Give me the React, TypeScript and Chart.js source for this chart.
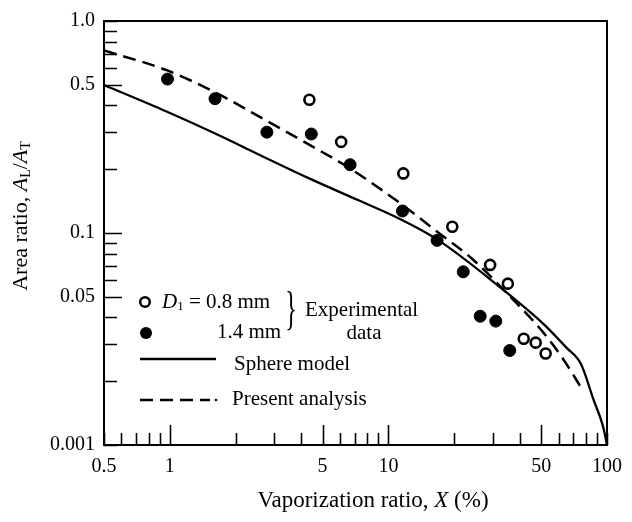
import React, { useEffect, useRef } from "react";
import { Chart, registerables } from "chart.js";
Chart.register(...registerables);

// ---- Data ----
const openX = [4.35, 6.08, 11.7, 19.6, 29.2, 35.2, 41.6, 47.2, 52.4];
const openY = [0.425, 0.269, 0.191, 0.107, 0.0707, 0.0577, 0.0317, 0.0304, 0.027];

const filledX = [0.976, 1.61, 2.78, 4.44, 6.68, 11.6, 16.7, 22.0, 26.3, 31.0, 35.9];
const filledY = [0.532, 0.43, 0.299, 0.293, 0.21, 0.127, 0.0923, 0.0656, 0.0405, 0.0384, 0.0279];

const sphereX = [0.5, 0.966, 1.63, 2.75, 4.44, 7.26, 11.0, 16.7, 31.4, 51.3, 65.2, 76.2, 86.5, 96, 100];
const sphereY = [0.499, 0.374, 0.293, 0.226, 0.179, 0.143, 0.118, 0.0933, 0.057, 0.0372, 0.0288, 0.024, 0.0165, 0.0122, 0.01];

const presentX = [0.5, 0.966, 1.63, 2.75, 4.44, 6.68, 11.27, 16.9, 24.2, 37.5, 51.3, 63.2, 77.8];
const presentY = [0.726, 0.586, 0.458, 0.34, 0.2575, 0.2014, 0.1386, 0.1005, 0.0754, 0.0481, 0.0338, 0.0253, 0.018];

const xTickValues = [0.5, 0.6, 0.7, 0.8, 0.9, 1, 2, 3, 4, 5, 6, 7, 8, 9, 10, 20, 30, 40, 50, 60, 70, 80, 90, 100];
const xMajorTicks = [1, 5, 10, 50];
const xLabelValues = [0.5, 1, 5, 10, 50, 100];
const xLabelTexts = ["0.5", "1", "5", "10", "50", "100"];

const yTickValues = [0.01, 0.02, 0.03, 0.04, 0.05, 0.06, 0.07, 0.08, 0.09, 0.1, 0.2, 0.3, 0.4, 0.5, 0.6, 0.7, 0.8, 0.9, 1];
const yMajorTicks = [0.5, 0.1, 0.05];
const yLabelValues = [1, 0.5, 0.1, 0.05, 0.01];
const yLabelTexts = ["1.0", "0.5", "0.1", "0.05", "0.001"];

const SERIF = "'Liberation Serif', 'Times New Roman', serif";

const pts = (xs: number[], ys: number[]) => xs.map((x, i) => ({ x, y: ys[i] }));
const near = (a: number, b: number) => Math.abs(a - b) <= Math.abs(b) * 1e-6;
const labelFor = (v: number, vals: number[], texts: string[]) => {
  const i = vals.findIndex((w) => near(v, w));
  return i >= 0 ? texts[i] : "";
};

type Part = { t: string; font: string; dy?: number };
function drawParts(ctx: CanvasRenderingContext2D, parts: Part[], x: number, y: number, align: "left" | "center") {
  let total = 0;
  for (const p of parts) {
    ctx.font = p.font;
    total += ctx.measureText(p.t).width;
  }
  let cx = align === "center" ? x - total / 2 : x;
  ctx.textAlign = "left";
  ctx.textBaseline = "middle";
  for (const p of parts) {
    ctx.font = p.font;
    ctx.fillText(p.t, cx, y + (p.dy || 0));
    cx += ctx.measureText(p.t).width;
  }
}

const decorPlugin = {
  id: "decor",
  afterDraw(chart: any) {
    const ctx: CanvasRenderingContext2D = chart.ctx;
    const { left, right, top, bottom } = chart.chartArea;
    const xs = chart.scales.x;
    const ys = chart.scales.y;
    ctx.save();
    ctx.strokeStyle = "#000";
    ctx.fillStyle = "#000";
    // inward ticks
    ctx.lineWidth = 1.6;
    ctx.beginPath();
    for (const v of xTickValues) {
      const px = Math.round(xs.getPixelForValue(v)) + 0.5;
      const len = xMajorTicks.some((m) => near(v, m)) ? 20 : 12;
      ctx.moveTo(px, bottom);
      ctx.lineTo(px, bottom - len);
    }
    for (const v of yTickValues) {
      const py = Math.round(ys.getPixelForValue(v)) + 0.5;
      const len = yMajorTicks.some((m) => near(v, m)) ? 18 : 13;
      ctx.moveTo(left, py);
      ctx.lineTo(left + len, py);
    }
    ctx.stroke();
    // frame
    ctx.lineWidth = 2;
    ctx.strokeRect(left, top, right - left, bottom - top);

    // axis titles
    ctx.fillStyle = "#000";
    drawParts(
      ctx,
      [
        { t: "Vaporization ratio, ", font: `23px ${SERIF}` },
        { t: "X", font: `italic 23px ${SERIF}` },
        { t: " (%)", font: `23px ${SERIF}` },
      ],
      373,
      501,
      "center"
    );
    ctx.save();
    ctx.translate(21, 216);
    ctx.rotate(-Math.PI / 2);
    drawParts(
      ctx,
      [
        { t: "Area ratio, ", font: `22px ${SERIF}` },
        { t: "A", font: `italic 22px ${SERIF}` },
        { t: "L", font: `14px ${SERIF}`, dy: 5 },
        { t: "/", font: `22px ${SERIF}` },
        { t: "A", font: `italic 22px ${SERIF}` },
        { t: "T", font: `14px ${SERIF}`, dy: 5 },
      ],
      0,
      0,
      "center"
    );
    ctx.restore();

    // legend
    const lf = `21px ${SERIF}`;
    // open marker
    ctx.beginPath();
    ctx.arc(145, 302, 4.8, 0, Math.PI * 2);
    ctx.fillStyle = "#fff";
    ctx.fill();
    ctx.lineWidth = 2.5;
    ctx.stroke();
    ctx.fillStyle = "#000";
    drawParts(
      ctx,
      [
        { t: "D", font: `italic 21px ${SERIF}` },
        { t: "1", font: `13px ${SERIF}`, dy: 5 },
        { t: " = 0.8 mm", font: lf },
      ],
      162,
      302,
      "left"
    );
    // filled marker
    ctx.beginPath();
    ctx.arc(146, 333, 6, 0, Math.PI * 2);
    ctx.fill();
    drawParts(ctx, [{ t: "1.4 mm", font: lf }], 217, 332, "left");
    // brace
    ctx.save();
    ctx.translate(291, 312);
    ctx.scale(1, 1.9);
    ctx.font = `24px ${SERIF}`;
    ctx.textAlign = "center";
    ctx.textBaseline = "middle";
    ctx.fillText("}", 0, 0);
    ctx.restore();
    drawParts(ctx, [{ t: "Experimental", font: lf }], 305, 310, "left");
    drawParts(ctx, [{ t: "data", font: lf }], 364, 333, "center");
    // solid line
    ctx.lineWidth = 2.5;
    ctx.setLineDash([]);
    ctx.beginPath();
    ctx.moveTo(140, 359);
    ctx.lineTo(216, 359);
    ctx.stroke();
    drawParts(ctx, [{ t: "Sphere model", font: lf }], 234, 364, "left");
    // dashed line
    ctx.setLineDash([13, 7]);
    ctx.beginPath();
    ctx.moveTo(140, 400);
    ctx.lineTo(210, 400);
    ctx.stroke();
    ctx.setLineDash([]);
    ctx.beginPath();
    ctx.arc(216, 400, 1.3, 0, Math.PI * 2);
    ctx.fill();
    drawParts(ctx, [{ t: "Present analysis", font: lf }], 232, 399, "left");
    ctx.restore();
  },
};

export default function App() {
  const ref = useRef<HTMLCanvasElement>(null);
  useEffect(() => {
    document.body.style.margin = "0";
    const canvas = ref.current;
    if (!canvas) return;
    Chart.defaults.font.family = SERIF;
    Chart.defaults.color = "#000";
    const chart = new Chart(canvas, {
      type: "scatter",
      data: {
        datasets: [
          {
            label: "D1 = 0.8 mm",
            data: pts(openX, openY),
            showLine: false,
            pointStyle: "circle",
            pointRadius: 5,
            pointBorderWidth: 2.6,
            pointBackgroundColor: "#fff",
            pointBorderColor: "#000",
          },
          {
            label: "1.4 mm",
            data: pts(filledX, filledY),
            showLine: false,
            pointStyle: "circle",
            pointRadius: 6,
            pointBorderWidth: 1,
            pointBackgroundColor: "#000",
            pointBorderColor: "#000",
          },
          {
            label: "Present analysis",
            data: pts(presentX, presentY),
            showLine: true,
            borderColor: "#000",
            borderWidth: 2.5,
            borderDash: [13, 7],
            pointRadius: 0,
            cubicInterpolationMode: "monotone",
            fill: false,
          },
          {
            label: "Sphere model",
            data: pts(sphereX, sphereY),
            showLine: true,
            borderColor: "#000",
            borderWidth: 2.3,
            pointRadius: 0,
            cubicInterpolationMode: "monotone",
            fill: false,
          },
        ],
      } as any,
      options: {
        responsive: false,
        animation: false,
        devicePixelRatio: 1,
        layout: { padding: { left: 0, top: 14, right: 21, bottom: 0 } },
        plugins: { legend: { display: false }, tooltip: { enabled: false } },
        events: [],
        scales: {
          x: {
            type: "logarithmic",
            min: 0.5,
            max: 100,
            grid: { display: false, drawTicks: false },
            border: { display: false },
            afterBuildTicks: (scale: any) => {
              scale.ticks = xTickValues.map((v) => ({ value: v }));
            },
            afterFit: (scale: any) => {
              scale.height = 77;
            },
            ticks: {
              autoSkip: false,
              maxRotation: 0,
              minRotation: 0,
              padding: 10,
              font: { size: 20, family: SERIF },
              color: "#000",
              callback: (v: any) => labelFor(Number(v), xLabelValues, xLabelTexts),
            },
          },
          y: {
            type: "logarithmic",
            min: 0.01,
            max: 1,
            grid: { display: false, drawTicks: false },
            border: { display: false },
            afterBuildTicks: (scale: any) => {
              scale.ticks = yTickValues.map((v) => ({ value: v }));
            },
            afterFit: (scale: any) => {
              scale.width = 104;
            },
            ticks: {
              autoSkip: false,
              padding: 9,
              font: { size: 20, family: SERIF },
              color: "#000",
              callback: (v: any) => labelFor(Number(v), yLabelValues, yLabelTexts),
            },
          },
        },
      } as any,
      plugins: [decorPlugin],
    });
    return () => chart.destroy();
  }, []);
  return (
    <div style={{ width: 632, height: 522 }}>
      <canvas ref={ref} width={632} height={522} style={{ display: "block" }} />
    </div>
  );
}
